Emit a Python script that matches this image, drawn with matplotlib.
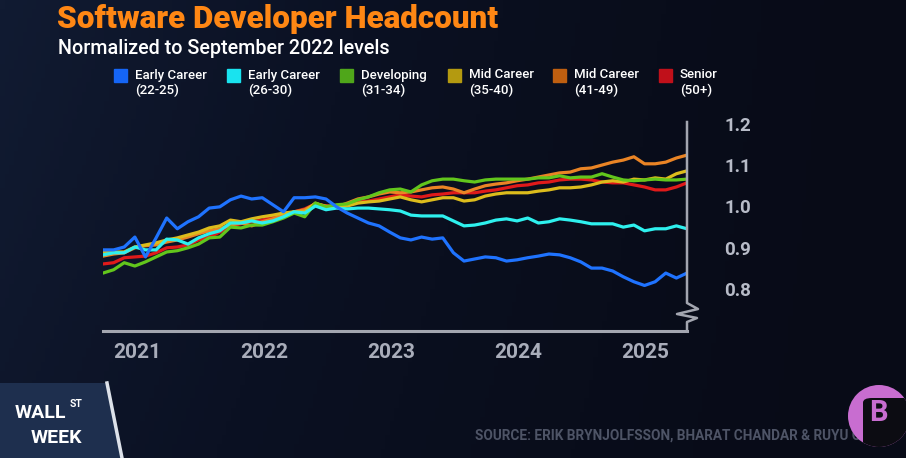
import numpy as np
import matplotlib
matplotlib.use("Agg")
import matplotlib.pyplot as plt
from matplotlib import font_manager as fm
from matplotlib.patches import Rectangle, Polygon, Ellipse, FancyBboxPatch
from matplotlib.colors import LinearSegmentedColormap

# values, one point per month (late 2020 .. mid 2025)
early_22_25 = [0.895, 0.895, 0.902, 0.926, 0.878, 0.924, 0.972, 0.946, 0.963, 0.975,
               0.996, 0.999, 1.016, 1.025, 1.018, 1.021, 1.004, 0.987, 1.021, 1.021,
               1.023, 1.018, 0.999, 0.984, 0.972, 0.960, 0.953, 0.938, 0.924, 0.919,
               0.926, 0.921, 0.924, 0.888, 0.868, 0.873, 0.878, 0.876, 0.868, 0.871,
               0.876, 0.880, 0.885, 0.883, 0.876, 0.866, 0.851, 0.851, 0.844, 0.830,
               0.818, 0.809, 0.818, 0.839, 0.827, 0.839]
early_26_30 = [0.883, 0.888, 0.888, 0.902, 0.895, 0.895, 0.921, 0.919, 0.909, 0.924,
               0.934, 0.941, 0.960, 0.960, 0.965, 0.960, 0.965, 0.975, 0.987, 0.984,
               1.001, 0.992, 0.996, 0.994, 0.996, 0.996, 0.994, 0.992, 0.989, 0.979,
               0.977, 0.977, 0.977, 0.965, 0.953, 0.955, 0.960, 0.967, 0.970, 0.965,
               0.972, 0.960, 0.963, 0.970, 0.967, 0.963, 0.958, 0.958, 0.958, 0.950,
               0.955, 0.941, 0.946, 0.946, 0.953, 0.946]
developing = [0.839, 0.847, 0.864, 0.856, 0.866, 0.878, 0.890, 0.893, 0.900, 0.909,
              0.924, 0.926, 0.950, 0.948, 0.955, 0.955, 0.963, 0.972, 0.984, 0.975,
              1.008, 0.999, 1.004, 1.006, 1.016, 1.023, 1.033, 1.040, 1.042, 1.035,
              1.052, 1.062, 1.066, 1.066, 1.062, 1.059, 1.064, 1.066, 1.066, 1.066,
              1.066, 1.069, 1.069, 1.074, 1.069, 1.071, 1.071, 1.079, 1.071, 1.064,
              1.062, 1.064, 1.066, 1.064, 1.064, 1.066]
mid_35_40 = [0.890, 0.890, 0.890, 0.902, 0.907, 0.912, 0.919, 0.924, 0.931, 0.938,
             0.948, 0.953, 0.967, 0.963, 0.970, 0.975, 0.979, 0.984, 0.987, 0.987,
             1.008, 0.999, 0.999, 1.001, 1.008, 1.011, 1.013, 1.018, 1.023, 1.016,
             1.011, 1.016, 1.021, 1.021, 1.013, 1.016, 1.025, 1.030, 1.033, 1.033,
             1.033, 1.037, 1.040, 1.045, 1.045, 1.047, 1.052, 1.059, 1.062, 1.059,
             1.066, 1.064, 1.069, 1.066, 1.079, 1.086]
mid_41_49 = [0.880, 0.885, 0.888, 0.900, 0.905, 0.907, 0.914, 0.919, 0.926, 0.934,
             0.941, 0.946, 0.955, 0.960, 0.953, 0.963, 0.970, 0.979, 0.987, 0.992,
             1.006, 1.001, 0.999, 1.008, 1.018, 1.023, 1.030, 1.035, 1.033, 1.035,
             1.040, 1.045, 1.047, 1.042, 1.033, 1.042, 1.050, 1.054, 1.057, 1.062,
             1.066, 1.071, 1.076, 1.081, 1.083, 1.091, 1.093, 1.100, 1.107, 1.112,
             1.120, 1.103, 1.103, 1.107, 1.117, 1.124]
senior = [0.861, 0.864, 0.876, 0.878, 0.880, 0.888, 0.900, 0.902, 0.907, 0.919,
          0.926, 0.938, 0.953, 0.958, 0.963, 0.967, 0.975, 0.979, 0.987, 0.994,
          1.006, 1.001, 0.999, 1.006, 1.011, 1.013, 1.018, 1.023, 1.028, 1.025,
          1.023, 1.028, 1.030, 1.033, 1.033, 1.033, 1.037, 1.040, 1.045, 1.050,
          1.052, 1.057, 1.059, 1.064, 1.066, 1.066, 1.064, 1.059, 1.057, 1.057,
          1.052, 1.047, 1.040, 1.040, 1.047, 1.057]

series_names = ["Early Career", "Early Career", "Developing", "Mid Career", "Mid Career", "Senior"]
series_ages = ["(22-25)", "(26-30)", "(31-34)", "(35-40)", "(41-49)", "(50+)"]
years = ["2021", "2022", "2023", "2024", "2025"]
y_ticks = [0.8, 0.9, 1.0, 1.1, 1.2]

line_colors = ["#1f73ff", "#2ef0ee", "#62c61c", "#dcbc1c", "#ea8425", "#e01a1a"]
box_colors = ["#1565f5", "#19e3ef", "#4fa61a", "#b49a10", "#bf5f10", "#c0101a"]


def has_font(name):
    try:
        fm.findfont(fm.FontProperties(family=name), fallback_to_default=False)
        return True
    except ValueError:
        return False


font = "Roboto" if has_font("Roboto") else "DejaVu Sans"
narrow = "Liberation Sans Narrow" if has_font("Liberation Sans Narrow") else font
plt.rcParams["font.family"] = [font, "DejaVu Sans"]

W, H = 906, 458
fig = plt.figure(figsize=(W / 100, H / 100), dpi=100)
fig.patch.set_facecolor("#0a0f1f")

def fx(px):
    return px / W

def fy(py):
    return 1 - py / H

# dark navy background, a little lighter on the left
bg = fig.add_axes([0, 0, 1, 1], zorder=-10)
gx, gy = np.meshgrid(np.linspace(0, 1, 200), np.linspace(0, 1, 100))
grad = 0.75 * (1 - gx) ** 1.5 + 0.25 * (1 - gy) * (1 - gx)
cmap = LinearSegmentedColormap.from_list("bg", ["#080b17", "#0b1123", "#111b32"])
bg.imshow(grad, extent=[0, 1, 0, 1], aspect="auto", cmap=cmap, origin="upper")
bg.axis("off")

# main chart
ax = fig.add_axes([fx(103), fy(331), fx(687) - fx(103), fy(122) - fy(331)])
ax.patch.set_alpha(0)
months = np.arange(len(early_22_25))
all_series = [early_22_25, early_26_30, developing, mid_35_40, mid_41_49, senior]
for i in [5, 4, 3, 2, 1, 0]:
    ax.plot(months, all_series[i], color=line_colors[i], lw=2.3, zorder=3 + (5 - i))

ax.set_xlim(0, len(months) - 1)
ax.set_ylim(0.699, 1.204)

for s in ["top", "left", "right"]:
    ax.spines[s].set_visible(False)
ax.spines["bottom"].set_color("#a3a6b0")
ax.spines["bottom"].set_linewidth(2.2)

# right axis line with a break mark near the bottom
ux, uy = 1 / 584, 1 / 209
ax.plot([1, 1, 1 + 11 * ux, 1 - 10 * ux, 1 + 10 * ux, 1, 1],
        [1, 28 * uy, 22 * uy, 17 * uy, 13 * uy, 9 * uy, 0],
        transform=ax.transAxes, color="#a3a6b0", lw=1.8, clip_on=False, zorder=10)

year_pos = [3.2, 15.2, 27.1, 39.1, 51.1]
ax.set_xticks(year_pos)
ax.set_xticklabels(years)
ax.tick_params(axis="x", length=0, pad=9, labelsize=15, labelcolor="#a9adba")
ax.yaxis.tick_right()
ax.set_yticks(y_ticks)
ax.set_yticklabels(["%.1f" % v for v in y_ticks])
ax.tick_params(axis="y", length=0, pad=27, labelsize=13.5, labelcolor="#b7bbc7")
for lab in ax.get_xticklabels() + ax.get_yticklabels():
    lab.set_fontweight("bold")

# titles
fig.text(fx(57), fy(28), "Software Developer Headcount", color="#ff8714",
         fontsize=22.6, fontweight="heavy", va="baseline")
fig.text(fx(58), fy(54), "Normalized to September 2022 levels", color="white",
         fontsize=14.2, fontweight="medium", va="baseline")

# legend
legend_x = [135, 248, 361, 469, 574, 680]
for i in range(6):
    fig.add_artist(Rectangle((fx(legend_x[i] - 21), fy(82)), 13 / W, 13 / H,
                             transform=fig.transFigure, color=box_colors[i]))
    fig.text(fx(legend_x[i]), fy(75), series_names[i], color="white", fontsize=9.5,
             fontweight="medium", va="center")
    fig.text(fx(legend_x[i]), fy(90), series_ages[i], color="white", fontsize=9.5,
             fontweight="medium", va="center")

# Wall St Week badge
badge = Polygon([(0, fy(383)), (fx(107), fy(383)), (fx(122), 0), (0, 0)],
                closed=True, transform=fig.transFigure, facecolor="#1e2f4e", edgecolor="none")
fig.add_artist(badge)
fig.add_artist(plt.Line2D([fx(107), fx(122)], [fy(383), 0], transform=fig.transFigure,
                          color="#dde2ea", lw=2.5))
fig.text(fx(15), fy(418), "WALL", color="white", fontsize=14, fontweight="bold",
         family=narrow, va="baseline")
fig.text(fx(70), fy(407), "ST", color="white", fontsize=7.5, fontweight="bold",
         family=narrow, va="baseline")
fig.text(fx(31), fy(443), "WEEK", color="white", fontsize=14, fontweight="bold",
         family=narrow, va="baseline")

# source line (its end disappears behind the logo, as in the broadcast)
fig.text(fx(475), fy(436), "SOURCE: ERIK BRYNJOLFSSON, BHARAT CHANDAR & RUYU CHEN",
         color="#4e5466", fontsize=9.8, fontweight="bold", va="center")

# pink B logo
circ = Ellipse((fx(879), fy(416)), 62 / W, 62 / H, transform=fig.transFigure,
               facecolor="#c86dd0", edgecolor="none", zorder=20)
fig.add_artist(circ)
inner = FancyBboxPatch((fx(863), fy(460)), 60 / W, 62 / H, boxstyle="round,pad=0,rounding_size=0.01",
                       transform=fig.transFigure, facecolor="#0c0c12", edgecolor="none", zorder=21)
fig.add_artist(inner)
inner.set_clip_path(circ)
fig.text(fx(878), fy(413), "B", color="#c86dd0", fontsize=21, fontweight="bold",
         ha="center", va="center", zorder=22)

fig.savefig("out.png", dpi=100, facecolor=fig.get_facecolor())
